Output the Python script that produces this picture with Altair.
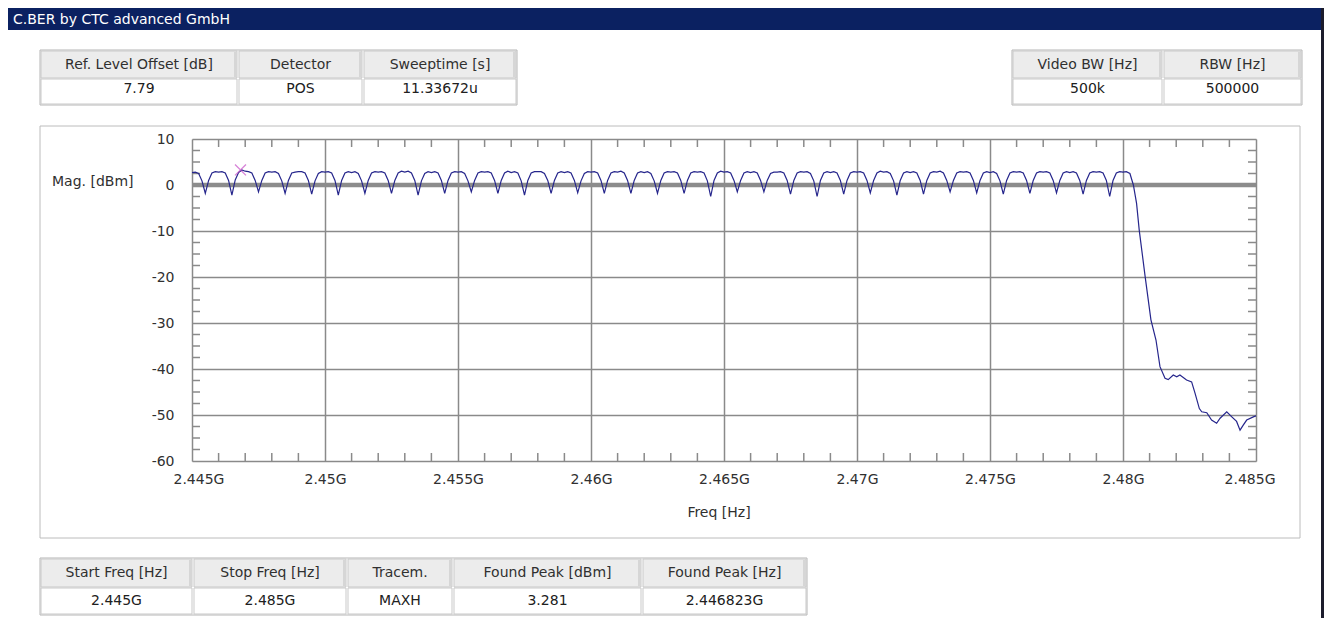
import altair as alt
import pandas as pd

# ---------------- data ----------------
TITLE = "C.BER by CTC advanced GmbH"
top_left_headers = ["Ref. Level Offset [dB]", "Detector", "Sweeptime [s]"]
top_left_values = ["7.79", "POS", "11.33672u"]
top_right_headers = ["Video BW [Hz]", "RBW [Hz]"]
top_right_values = ["500k", "500000"]
bottom_headers = ["Start Freq [Hz]", "Stop Freq [Hz]", "Tracem.", "Found Peak [dBm]", "Found Peak [Hz]"]
bottom_values = ["2.445G", "2.485G", "MAXH", "3.281", "2.446823G"]
y_axis_title = "Mag. [dBm]"
x_axis_title = "Freq [Hz]"

x_ticks_mhz = [2445, 2450, 2455, 2460, 2465, 2470, 2475, 2480, 2485]
y_ticks = [10, 0, -10, -20, -30, -40, -50, -60]
minor_x = [2446, 2447, 2448, 2449, 2451, 2452, 2453, 2454, 2456, 2457, 2458, 2459,
           2461, 2462, 2463, 2464, 2466, 2467, 2468, 2469, 2471, 2472, 2473, 2474,
           2476, 2477, 2478, 2479, 2481, 2482, 2483, 2484]
minor_y = [7.5, 5, 2.5, -2.5, -5, -7.5, -12.5, -15, -17.5, -22.5, -25, -27.5,
           -32.5, -35, -37.5, -42.5, -45, -47.5, -52.5, -55, -57.5]

# trace: one row per MHz, samples every 0.125 MHz starting at 2445 MHz
ripple_start = 2445.0
ripple_step = 0.125
ripple_rows = [
    [2.7, 2.8, 2.5, 0.9, -1.8, 1.0, 2.6, 2.9],
    [2.8, 2.9, 2.6, 1.0, -2.2, 1.1, 2.7, 3.28],
    [3.0, 2.9, 2.6, 1.0, -1.5, 1.0, 2.6, 2.9],
    [2.8, 2.9, 2.5, 0.9, -1.8, 1.0, 2.6, 2.8],
    [2.9, 2.9, 2.6, 1.0, -2.0, 0.9, 2.5, 2.9],
    [2.8, 2.9, 2.6, 1.0, -2.2, 1.0, 2.6, 2.9],
    [2.7, 2.9, 2.5, 0.9, -1.8, 1.0, 2.6, 2.9],
    [2.8, 2.9, 2.6, 1.0, -1.8, 1.0, 2.6, 3.0],
    [2.8, 3.0, 2.6, 1.0, -2.2, 0.9, 2.5, 2.9],
    [2.7, 2.9, 2.6, 1.0, -1.8, 1.0, 2.6, 2.9],
    [2.8, 2.9, 2.5, 0.9, -1.5, 1.0, 2.6, 2.9],
    [2.8, 2.9, 2.6, 1.0, -1.8, 1.0, 2.6, 3.0],
    [2.7, 2.9, 2.6, 0.9, -2.2, 1.0, 2.6, 2.9],
    [2.9, 2.9, 2.5, 1.0, -1.8, 1.0, 2.6, 2.9],
    [2.7, 2.9, 2.6, 1.0, -1.7, 0.9, 2.5, 2.9],
    [2.8, 2.9, 2.6, 1.0, -1.8, 1.0, 2.6, 2.9],
    [2.8, 3.0, 2.6, 1.0, -1.8, 1.0, 2.6, 2.9],
    [2.7, 2.9, 2.5, 0.9, -1.8, 1.0, 2.6, 2.9],
    [2.8, 2.9, 2.6, 1.0, -1.8, 1.0, 2.6, 2.9],
    [2.8, 2.9, 2.6, 0.9, -2.5, 1.0, 2.6, 3.0],
    [2.8, 2.9, 2.6, 1.0, -1.5, 1.0, 2.6, 2.9],
    [2.7, 2.9, 2.6, 1.0, -1.5, 1.0, 2.5, 2.8],
    [2.8, 2.9, 2.6, 1.0, -2.0, 1.0, 2.6, 2.9],
    [2.8, 2.9, 2.5, 0.9, -2.5, 1.0, 2.6, 2.9],
    [2.7, 2.9, 2.6, 1.0, -2.0, 1.0, 2.6, 2.9],
    [2.8, 2.9, 2.6, 1.0, -1.7, 1.0, 2.6, 3.0],
    [2.8, 2.9, 2.5, 0.9, -2.2, 1.0, 2.6, 2.9],
    [2.7, 2.9, 2.6, 1.0, -2.0, 1.0, 2.6, 2.9],
    [2.8, 3.0, 2.6, 1.0, -1.5, 1.0, 2.6, 2.9],
    [2.8, 2.9, 2.6, 1.0, -1.7, 1.0, 2.6, 2.9],
    [2.7, 2.9, 2.5, 0.9, -2.0, 1.0, 2.6, 2.9],
    [2.8, 2.9, 2.6, 1.0, -1.8, 1.0, 2.6, 2.9],
    [2.8, 2.9, 2.6, 1.0, -1.7, 1.0, 2.6, 2.9],
    [2.7, 2.9, 2.6, 1.0, -2.0, 1.0, 2.6, 2.9],
    [2.8, 2.9, 2.6, 1.0, -2.5, 1.0, 2.6, 2.9],
]
ripple_end = [2.8, 2.9]  # 2480.000, 2480.125 MHz
tail_freq = [2480.26, 2480.39, 2480.51, 2480.61, 2480.83, 2481.05, 2481.24, 2481.39,
             2481.58, 2481.70, 2481.89, 2482.02, 2482.14, 2482.39, 2482.58, 2482.71,
             2482.87, 2482.96, 2483.15, 2483.33, 2483.52, 2483.65, 2483.90, 2484.09,
             2484.27, 2484.40, 2484.52, 2484.65, 2484.90, 2485.00]
tail_val = [2.5, 0.0, -4.0, -9.8, -19.8, -29.3, -33.7, -39.5,
            -42.0, -42.3, -41.3, -41.7, -41.3, -42.4, -42.8, -45.3,
            -48.6, -49.3, -49.5, -51.1, -51.8, -50.7, -49.3, -50.4,
            -51.4, -53.3, -52.2, -51.1, -50.4, -50.2]
peak_freq = [2446.823]
peak_val = [3.281]
ref_line = [0.0]

# ---------------- layout (page pixels) ----------------
SVG_W, SVG_H = 1316, 610
PLOT_LEFT, PLOT_TOP = 192, 139          # plot origin on page
PLOT_W, PLOT_H = 1064, 322
FONT = "DejaVu Sans"
TXT = "#303030"

ripple_vals = [v for row in ripple_rows for v in row] + ripple_end
ripple_freq = [ripple_start + ripple_step * i for i in range(len(ripple_vals))]
trace = pd.DataFrame({"f": ripple_freq + tail_freq, "v": ripple_vals + tail_val})

rects = []
def add_rect(x1, y1, x2, y2, fill, stroke):
    rects.append(dict(x=x1 - PLOT_LEFT, x2=x2 - PLOT_LEFT, y=y1 - PLOT_TOP,
                      y2=y2 - PLOT_TOP, fill=fill, stroke=stroke))

texts_c = []
def add_text(x, y, t, color=TXT):
    texts_c.append(dict(x=x - PLOT_LEFT, y=y - PLOT_TOP, t=t, c=color))

# title bar and right window border
add_rect(8, 8, 1324, 30, "#0b2161", "transparent")
add_rect(1321, 8, 1324, 618, "#1c1c2c", "transparent")
# plot frame
add_rect(40, 126, 1300, 538, "transparent", "#bcbcbc")

def add_group(edges, rows, heads, vals, ty_head, ty_val):
    ya, yb, yc = rows
    add_rect(edges[0], ya, edges[-1], yc, "#ffffff", "#b5b5b5")
    for i in range(len(heads)):
        x1, x2 = edges[i], edges[i + 1]
        add_rect(x1 + 1, ya + 1, x2 - 1, yb, "#ececec", "#c9c9c9")
        add_rect(x2 - 4, ya + 2, x2 - 1, yb - 1, "#d6d6d6", "transparent")
        add_rect(x1 + 1, yb + 1, x2 - 1, yc - 1, "#ffffff", "#c9c9c9")
        add_text((x1 + x2) / 2, ty_head, heads[i])
        add_text((x1 + x2) / 2, ty_val, vals[i], "#202020")

add_group([40, 238, 363, 517], (50, 78, 105), top_left_headers, top_left_values, 65, 89)
add_group([1012, 1163, 1302], (50, 78, 105), top_right_headers, top_right_values, 65, 89)
add_group([40, 193, 347, 453, 642, 807], (558, 587, 615), bottom_headers, bottom_values, 573, 601)
add_text(719, 513, x_axis_title)

texts_l = [dict(x=13 - PLOT_LEFT, y=19.5 - PLOT_TOP, t=TITLE, c="#ffffff"),
           dict(x=52 - PLOT_LEFT, y=182 - PLOT_TOP, t=y_axis_title, c=TXT)]

px_x = lambda f: alt.X(f, scale=None, axis=None)
px_y = lambda f: alt.Y(f, scale=None, axis=None)

decor = alt.Chart(pd.DataFrame(rects)).mark_rect(strokeWidth=1).encode(
    x=px_x("x:Q"), x2="x2:Q", y=px_y("y:Q"), y2="y2:Q",
    fill=alt.Fill("fill:N", scale=None), stroke=alt.Stroke("stroke:N", scale=None))

text_center = alt.Chart(pd.DataFrame(texts_c)).mark_text(
    font=FONT, fontSize=14, align="center", baseline="middle").encode(
    x=px_x("x:Q"), y=px_y("y:Q"), text="t:N", color=alt.Color("c:N", scale=None))

text_left = alt.Chart(pd.DataFrame(texts_l)).mark_text(
    font=FONT, fontSize=14, align="left", baseline="middle").encode(
    x=px_x("x:Q"), y=px_y("y:Q"), text="t:N", color=alt.Color("c:N", scale=None))

xs = alt.Scale(domain=[2445, 2485], nice=False, zero=False)
ys = alt.Scale(domain=[-60, 10], nice=False, zero=False)
GRID = "#8a8a8a"

zero = alt.Chart(pd.DataFrame({"v": ref_line})).mark_rule(
    color="#8c8c8c", strokeWidth=4.5).encode(y=alt.Y("v:Q", scale=ys, axis=None))

mx = pd.DataFrame({"f": minor_x})
my = pd.DataFrame({"v": minor_y})
tick_top = alt.Chart(mx).mark_rule(color=GRID, strokeWidth=1.5).encode(
    x=alt.X("f:Q", scale=xs, axis=None), y=alt.value(0), y2=alt.value(8))
tick_bot = alt.Chart(mx).mark_rule(color=GRID, strokeWidth=1.5).encode(
    x=alt.X("f:Q", scale=xs, axis=None), y=alt.value(PLOT_H - 8), y2=alt.value(PLOT_H))
tick_left = alt.Chart(my).mark_rule(color=GRID, strokeWidth=1.5).encode(
    y=alt.Y("v:Q", scale=ys, axis=None), x=alt.value(0), x2=alt.value(8))
tick_right = alt.Chart(my).mark_rule(color=GRID, strokeWidth=1.5).encode(
    y=alt.Y("v:Q", scale=ys, axis=None), x=alt.value(PLOT_W - 8), x2=alt.value(PLOT_W))

line = alt.Chart(trace).mark_line(color="#26268c", strokeWidth=1.2).encode(
    x=alt.X("f:Q", scale=xs, axis=alt.Axis(
        values=x_ticks_mhz, title=None, grid=True, gridColor=GRID, gridWidth=1.5,
        domain=False, ticks=False, tickSize=0, labelPadding=18, labelBaseline="middle",
        labelFlush=True, labelFlushOffset=19, labelOverlap=False,
        labelExpr="format(datum.value / 1000, '.4~f') + 'G'",
        labelFont=FONT, labelFontSize=14, labelColor=TXT)),
    y=alt.Y("v:Q", scale=ys, axis=alt.Axis(
        values=y_ticks, title=None, grid=True, gridColor=GRID, gridWidth=1.5,
        domain=False, ticks=False, tickSize=0, labelPadding=18, labelOverlap=False,
        labelExpr="'' + datum.value",
        labelFont=FONT, labelFontSize=14, labelColor=TXT)))

marker = alt.Chart(pd.DataFrame({"f": peak_freq, "v": peak_val})).mark_point(
    shape="M-1,-1L1,1M-1,1L1,-1", filled=False, color="#c84fc8", size=120,
    strokeWidth=1.3).encode(
    x=alt.X("f:Q", scale=xs, axis=None), y=alt.Y("v:Q", scale=ys, axis=None))

chart = alt.layer(decor, zero, tick_top, tick_bot, tick_left, tick_right, line,
                  marker, text_center, text_left).resolve_scale(
    x="independent", y="independent").properties(
    width=PLOT_W, height=PLOT_H,
    padding={"left": PLOT_LEFT - 8, "top": PLOT_TOP - 8,
             "right": SVG_W - (PLOT_LEFT - 8) - PLOT_W,
             "bottom": SVG_H - (PLOT_TOP - 8) - PLOT_H},
    autosize=alt.AutoSizeParams(type="none"),
).configure_view(stroke=GRID, strokeWidth=1.5).configure(background="#ffffff")

chart.save("out.html", embed_options={"renderer": "svg", "actions": False})
